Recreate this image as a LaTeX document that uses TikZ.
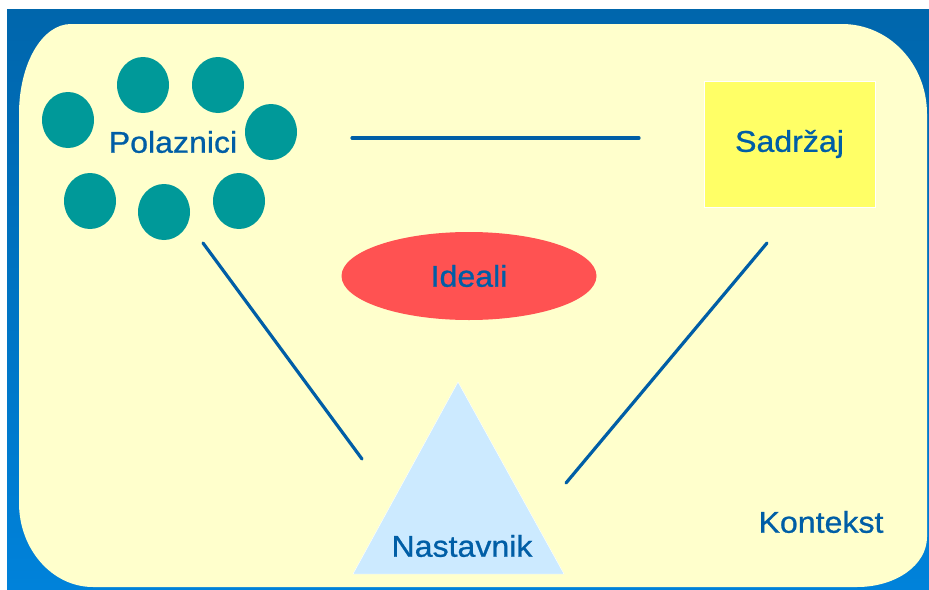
\documentclass[tikz,border=0pt]{standalone}
\usepackage{fontspec}
\setmainfont{Liberation Sans}
\newfontfamily\labelfont[FakeStretch=1.07,FakeBold=0.8]{Liberation Sans}
\usetikzlibrary{shapes.geometric}
\definecolor{frameblue}{RGB}{0,102,172}
\definecolor{framelight}{RGB}{0,130,218}
\definecolor{pale}{RGB}{255,255,204}
\definecolor{circlegreen}{RGB}{0,153,153}
\definecolor{inkblue}{RGB}{0,94,166}
\definecolor{boxyellow}{RGB}{255,255,102}
\definecolor{idealred}{RGB}{255,82,82}
\definecolor{triblue}{RGB}{204,234,255}
\begin{document}
\begin{tikzpicture}[x=1pt,y=-1pt,
    lbl/.style={text=inkblue,font=\labelfont\fontsize{30}{36}\selectfont},
    member/.style={ellipse,fill=circlegreen,minimum width=52pt,minimum height=56pt,inner sep=0pt},
    link/.style={draw=inkblue,line width=3.2pt}]
  \useasboundingbox (0,0) rectangle (929,589);
  \fill[white] (0,0) rectangle (929,589);
  \shade[top color=frameblue,bottom color=framelight] (7,9) rectangle (929,589);
  % rounded backdrop
  \fill[pale] (19,114) .. controls (19,64) and (42,24) .. (71,24) -- (842,24)
    .. controls (889,24) and (927,64) .. (927,114) -- (927,537)
    .. controls (927,565) and (896,587) .. (857,587) -- (93,587)
    .. controls (52,587) and (19,549) .. (19,503) -- cycle;
  \foreach \x/\y [count=\i] in {68/120,143/85,218/85,271/132,90/201,164/212,239/201}
    \node[member] (p\i) at (\x,\y) {};
  \node[lbl] (polaznici) at (173,142) {Polaznici};
  \node[lbl,fill=boxyellow,draw=white,minimum width=171pt,minimum height=126pt] (sadrzaj) at (789.5,144) {Sadržaj};
  \node[lbl,ellipse,fill=idealred,minimum width=255pt,minimum height=88pt] (ideali) at (469,276) {Ideali};
  \fill[triblue,draw=white] (458,382) -- (564,574) -- (353,574) -- cycle;
  \node[lbl] (nastavnik) at (462,546) {Nastavnik};
  \node[lbl] (kontekst) at (821,522) {Kontekst};
  \coordinate (ps1) at (352,138);
  \coordinate (ps2) at (639,138);
  \coordinate (pn1) at (203,243);
  \coordinate (pn2) at (362,459);
  \coordinate (sn1) at (767,243);
  \coordinate (sn2) at (566,483);
  \begin{scope}[link,line cap=round]
    \draw (ps1) to (ps2);
    \draw (pn1) to (pn2);
    \draw (sn1) to (sn2);
  \end{scope}
\end{tikzpicture}
\end{document}
